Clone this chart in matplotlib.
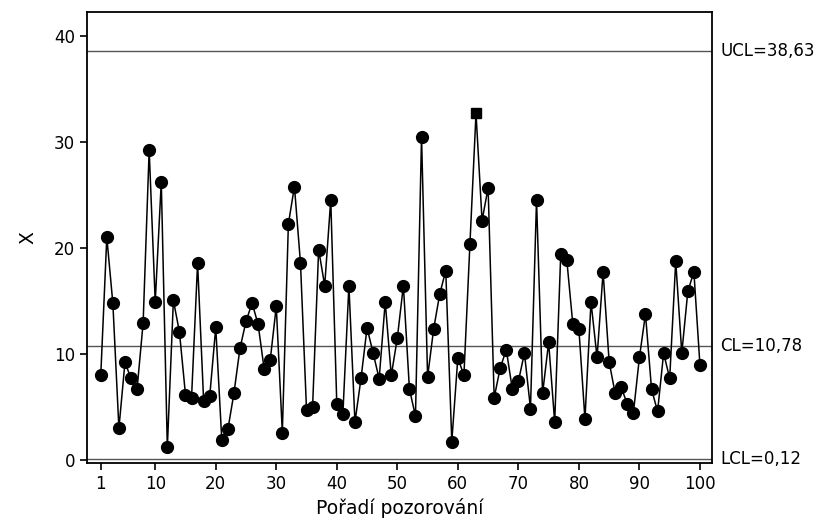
import numpy as np
import matplotlib
matplotlib.use("Agg")
import matplotlib.pyplot as plt

obs = np.arange(1, 101)
values = [
    8.0, 21.05, 14.8, 3.02, 9.23, 7.72, 6.71, 12.95, 29.27, 14.93,
    26.28, 1.2, 15.09, 12.1, 6.18, 5.9, 18.6, 5.58, 6.02, 12.54,
    1.89, 2.9, 6.3, 10.55, 13.1, 14.84, 12.82, 8.6, 9.45, 14.52,
    2.61, 22.3, 25.83, 18.6, 4.73, 5.04, 19.88, 16.48, 24.57, 5.29,
    4.32, 16.48, 3.59, 7.72, 12.5, 10.11, 7.69, 14.93, 8.0, 11.53,
    16.48, 6.71, 4.16, 30.53, 7.85, 12.38, 15.66, 17.9, 1.76, 9.67,
    8.0, 20.45, 32.74, 22.62, 25.71, 5.9, 8.7, 10.43, 6.71, 7.43,
    10.11, 4.88, 24.57, 6.3, 11.12, 3.59, 19.47, 18.9, 12.82, 12.38,
    3.88, 14.93, 9.7, 17.77, 9.26, 6.3, 6.87, 5.29, 4.44, 9.7,
    13.8, 6.71, 4.6, 10.11, 7.72, 18.78, 10.11, 15.94, 17.77, 8.98,
]
flagged = [63]  # drawn with square marker

ucl, cl, lcl = 38.63, 10.78, 0.12
limit_labels = ["UCL=38,63", "CL=10,78", "LCL=0,12"]

plt.rcParams['font.family'] = ['DejaVu Sans']
fig = plt.figure(figsize=(8.27, 5.23), dpi=100)
ax = fig.add_axes([0.105, 0.115, 0.756, 0.862])

for lv in (ucl, cl, lcl):
    ax.axhline(lv, color='#555555', lw=1.0, zorder=1)

vals = np.array(values)
ax.plot(obs, vals, color='black', lw=1.1, zorder=2)
mask = np.isin(obs, flagged)
ax.plot(obs[~mask], vals[~mask], 'o', color='black', ms=8.5, zorder=3)
ax.plot(obs[mask], vals[mask], 's', color='black', ms=6.5, zorder=3)

for lv, lab in zip((ucl, cl, lcl), limit_labels):
    ax.annotate(lab, xy=(1.0, lv), xycoords=('axes fraction', 'data'),
                xytext=(6, 0), textcoords='offset points',
                ha='left', va='center', fontsize=12)

ax.set_xlim(-1.3, 102)
ax.set_ylim(-0.25, 42.3)
ax.set_xticks([1, 10, 20, 30, 40, 50, 60, 70, 80, 90, 100])
ax.set_yticks([0, 10, 20, 30, 40])
ax.tick_params(labelsize=12, length=5, width=1.2)
ax.set_xlabel('Pořadí pozorování', fontsize=13.5, labelpad=4)
ax.set_ylabel('X', fontsize=13.5, labelpad=12)
for s in ax.spines.values():
    s.set_linewidth(1.3)

fig.savefig('out.png', dpi=100)
